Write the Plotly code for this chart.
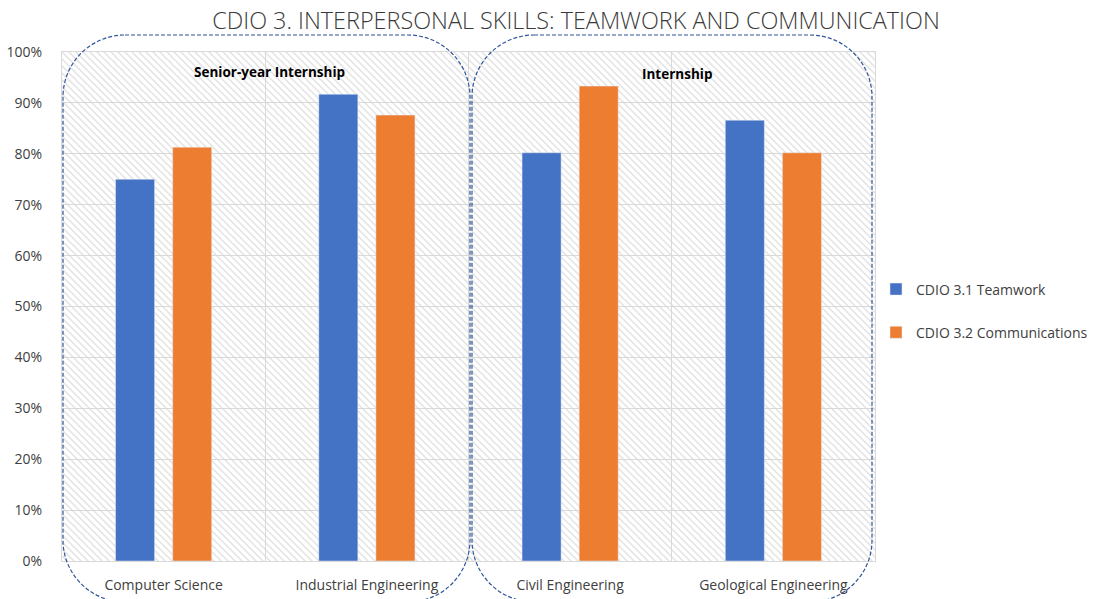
import base64
import plotly.graph_objects as go

categories = ["Computer Science", "Industrial Engineering", "Civil Engineering", "Geological Engineering"]
teamwork = [75.0, 91.7, 80.2, 86.6]
communications = [81.3, 87.6, 93.3, 80.2]
series_names = ["CDIO 3.1 Teamwork", "CDIO 3.2 Communications"]
group_labels = ["Senior-year Internship", "Internship"]
title_text = "CDIO 3. INTERPERSONAL SKILLS: TEAMWORK AND COMMUNICATION"

W, H = 1101, 599
L, R, T, B = 62, 875, 52, 561
PW, PH = R - L, B - T


def px(x):
    return (x - L) / PW


def py(y):
    return (B - y) / PH


def rrect(x0, y0, x1, y1, r):
    k = 0.5523 * r
    pts = [
        f"M{px(x0 + r)},{py(y0)}",
        f"L{px(x1 - r)},{py(y0)}",
        f"C{px(x1 - r + k)},{py(y0)} {px(x1)},{py(y0 + r - k)} {px(x1)},{py(y0 + r)}",
        f"L{px(x1)},{py(y1 - r)}",
        f"C{px(x1)},{py(y1 - r + k)} {px(x1 - r + k)},{py(y1)} {px(x1 - r)},{py(y1)}",
        f"L{px(x0 + r)},{py(y1)}",
        f"C{px(x0 + r - k)},{py(y1)} {px(x0)},{py(y1 - r + k)} {px(x0)},{py(y1 - r)}",
        f"L{px(x0)},{py(y0 + r)}",
        f"C{px(x0)},{py(y0 + r - k)} {px(x0 + r - k)},{py(y0)} {px(x0 + r)},{py(y0)}",
        "Z",
    ]
    return " ".join(pts)


svg = (
    f"<svg xmlns='http://www.w3.org/2000/svg' width='{PW}' height='{PH}'>"
    "<defs><pattern id='p' patternUnits='userSpaceOnUse' width='7' height='7'>"
    "<path d='M-1,-1 L8,8 M-1,6 L1,8 M6,-1 L8,1' stroke='#e3e3e3' stroke-width='1.5'/>"
    "</pattern></defs><rect width='100%' height='100%' fill='url(#p)'/></svg>"
)
hatch = "data:image/svg+xml;base64," + base64.b64encode(svg.encode()).decode()

font = "Open Sans"

fig = go.Figure()
fig.add_trace(go.Bar(x=categories, y=teamwork, name=series_names[0],
                     marker_color="#4472C4", legendgroup="a"))
fig.add_trace(go.Bar(x=categories, y=communications, name=series_names[1],
                     marker_color="#ED7D31", legendgroup="b"))

fig.update_layout(
    width=W, height=H,
    margin=dict(l=L, r=W - R, t=T, b=H - B, pad=0, autoexpand=False),
    paper_bgcolor="white", plot_bgcolor="white",
    barmode="group", bargap=0.438, bargroupgap=0.316,
    font=dict(family=font, size=14, color="#404040"),
    title=dict(text=title_text, x=576 / W, xanchor="center", y=1 - 21 / H,
               yanchor="middle",
               font=dict(family=font, size=23.4, color="#3a3a3a", weight=300)),
    legend=dict(x=px(876), xanchor="left", y=py(311), yanchor="middle",
                font=dict(size=14, color="#404040"), tracegroupgap=22,
                bgcolor="rgba(0,0,0,0)"),
    images=[dict(source=hatch, xref="paper", yref="paper", x=0, y=1, sizex=1, sizey=1,
                 sizing="stretch", xanchor="left", yanchor="top", layer="below")],
    shapes=[
        dict(type="path", xref="paper", yref="paper", path=rrect(63, 35, 470, 602, 62),
             line=dict(color="#2F5597", width=1.2, dash="4px,2px"), layer="above"),
        dict(type="path", xref="paper", yref="paper", path=rrect(472, 35, 872, 602, 62),
             line=dict(color="#2F5597", width=1.2, dash="4px,2px"), layer="above"),
    ],
    annotations=[
        dict(text="<b>" + group_labels[0] + "</b>", x=px(269), y=py(72), xref="paper", yref="paper",
             xanchor="center", yanchor="middle", showarrow=False,
             font=dict(size=13.5, color="#000000")),
        dict(text="<b>" + group_labels[1] + "</b>", x=px(677), y=py(74), xref="paper", yref="paper",
             xanchor="center", yanchor="middle", showarrow=False,
             font=dict(size=13.5, color="#000000")),
    ],
)
fig.update_xaxes(tickson="boundaries", showgrid=True, gridcolor="#d9d9d9", gridwidth=1,
                 showline=True, linecolor="#d9d9d9", mirror=True, ticks="", automargin=False,
                 ticklabelstandoff=11, tickfont=dict(size=14, color="#404040"))
fig.update_yaxes(range=[0, 100], dtick=10, ticksuffix="%", showgrid=True, gridcolor="#d9d9d9",
                 gridwidth=1, showline=True, linecolor="#d9d9d9", mirror=True, ticks="",
                 automargin=False, zeroline=False, ticklabelstandoff=16,
                 tickfont=dict(size=14, color="#404040"))

fig.write_html(
    "out.html",
    config={"displayModeBar": False},
    post_script="document.body.style.margin='0';document.body.style.overflow='hidden';",
)
